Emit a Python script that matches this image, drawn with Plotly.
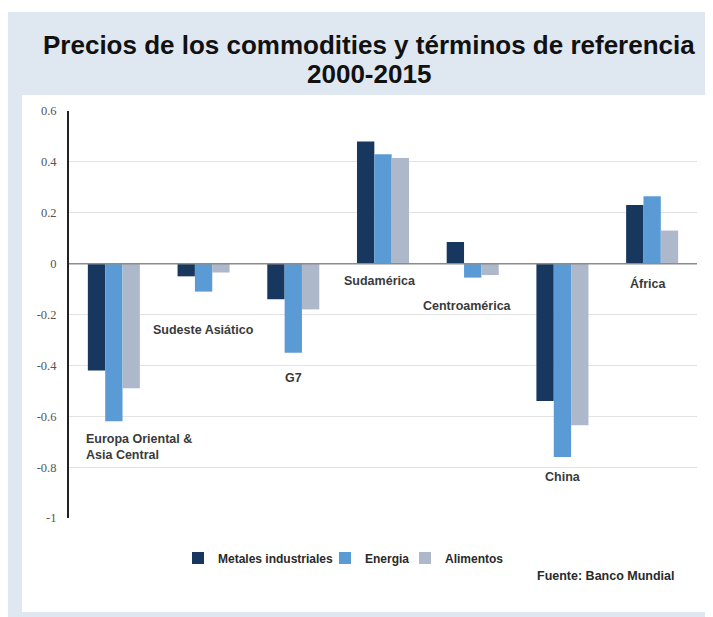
import plotly.graph_objects as go

categories = ["Europa Oriental &<br>Asia Central", "Sudeste Asiático", "G7", "Sudamérica",
              "Centroamérica", "China", "África"]
metales = [-0.42, -0.05, -0.14, 0.48, 0.085, -0.54, 0.23]
energia = [-0.62, -0.11, -0.35, 0.43, -0.055, -0.76, 0.265]
alimentos = [-0.49, -0.035, -0.18, 0.415, -0.045, -0.635, 0.13]
series_names = ["Metales industriales", "Energia", "Alimentos"]
colors = ["#17375e", "#5b9bd5", "#adb9ca"]
tick_vals = [0.6, 0.4, 0.2, 0, -0.2, -0.4, -0.6, -0.8, -1]
tick_text = ["0.6", "0.4", "0.2", "0", "-0.2", "-0.4", "-0.6", "-0.8", "-1"]
# label placement (data units) for the in-plot category labels
label_y = [-0.72, -0.26, -0.45, -0.07, -0.165, -0.84, -0.08]
label_xshift = [-30, 0, -10, -3, -5, 1, -4]
label_anchor = ["left", "center", "left", "center", "center", "center", "center"]

O = 8  # page offset of the plot div (body margin)
W, H = 713 - O, 617 - O
# plot area in page pixels
PX0, PX1, PY0, PY1 = 69, 697, 111, 518
L, R, T, B = PX0 - O, W - (PX1 - O), PY0 - O, H - (PY1 - O)
pw, ph = PX1 - PX0, PY1 - PY0
def px(x):
    return (x - PX0) / pw
def py(y):
    return (PY1 - y) / ph

legend_ids = ["legend", "legend2", "legend3"]
legend_px = [178, 325, 405]

xs = list(range(len(categories)))
fig = go.Figure()
for name, vals, col, lid in zip(series_names, [metales, energia, alimentos], colors, legend_ids):
    fig.add_trace(go.Bar(x=xs, y=vals, name="<b>%s</b>" % name, legend=lid,
                         marker=dict(color=col, line=dict(width=0))))

shapes = [
    dict(type="rect", xref="paper", yref="paper", x0=px(8), x1=px(713), y0=py(617), y1=py(12),
         fillcolor="#dfe8f0", line=dict(width=0), layer="below"),
    dict(type="rect", xref="paper", yref="paper", x0=px(22), x1=px(713), y0=py(612), y1=py(95),
         fillcolor="#ffffff", line=dict(width=0), layer="below"),
    dict(type="line", xref="paper", yref="y", x0=0, x1=1, y0=0, y1=0,
         line=dict(color="#8c8c8c", width=1.5)),
]

lab_font = dict(family="Liberation Sans, Arial", size=12.5, color="#3a3a3a")
annotations = []
for i, (lab, yv, xs_, anc) in enumerate(zip(categories, label_y, label_xshift, label_anchor)):
    annotations.append(dict(x=i, y=yv, text="<b>%s</b>" % lab, showarrow=False, xref="x", yref="y",
                            xanchor=anc, xshift=xs_, align="left", font=lab_font))

title_font = dict(family="Liberation Sans, Arial", size=26, color="#111111")
annotations.append(dict(x=px(369), y=py(45), xref="paper", yref="paper", showarrow=False,
                        text="<b>Precios de los commodities y términos de referencia</b>",
                        font=title_font, xanchor="center", yanchor="middle"))
annotations.append(dict(x=px(369), y=py(74), xref="paper", yref="paper", showarrow=False,
                        text="<b>2000-2015</b>",
                        font=title_font, xanchor="center", yanchor="middle"))
annotations.append(dict(x=px(677), y=py(576), xref="paper", yref="paper", showarrow=False,
                        text="<b>Fuente: Banco Mundial</b>", xanchor="right", yanchor="middle",
                        font=dict(family="Liberation Sans, Arial", size=12.5, color="#2a2a2a")))

leg_common = dict(orientation="h", y=py(558), xanchor="left", yanchor="middle",
                  font=dict(family="Liberation Sans, Arial", size=12, color="#2a2a2a"),
                  bgcolor="rgba(0,0,0,0)", itemwidth=30)

fig.update_layout(
    width=W, height=H,
    margin=dict(l=L, r=R, t=T, b=B, pad=0),
    paper_bgcolor="#ffffff", plot_bgcolor="rgba(0,0,0,0)",
    barmode="group", bargap=0.42, bargroupgap=0,
    shapes=shapes, annotations=annotations,
    showlegend=True,
    legend=dict(x=px(legend_px[0]), **leg_common),
    legend2=dict(x=px(legend_px[1]), **leg_common),
    legend3=dict(x=px(legend_px[2]), **leg_common),
    xaxis=dict(range=[-0.5, len(categories) - 0.5], showticklabels=False, showgrid=False,
               zeroline=False, showline=False, ticks=""),
    yaxis=dict(range=[-1, 0.6], tickvals=tick_vals, ticktext=tick_text, showgrid=True,
               gridcolor="#e3e3e3", gridwidth=1, zeroline=False, showline=True,
               linecolor="#222222", linewidth=2, ticks="", ticklabelstandoff=8,
               tickfont=dict(family="Liberation Serif, Times New Roman", size=12.5, color="#555555")),
)
fig.write_html("out.html")
